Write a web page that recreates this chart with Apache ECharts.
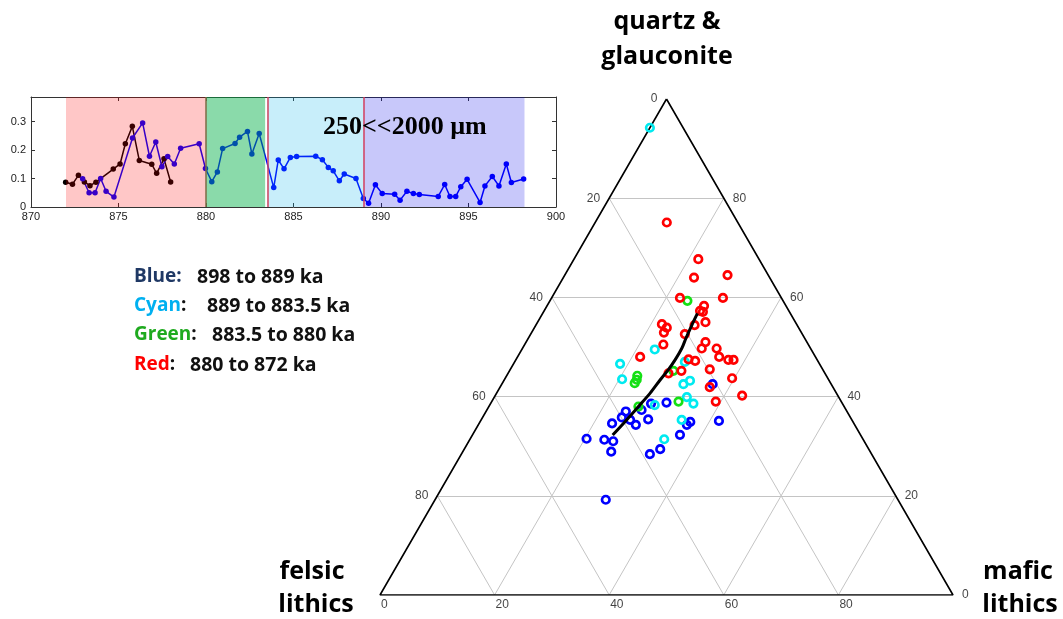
<!DOCTYPE html>
<html><head><meta charset="utf-8">
<script src="https://cdn.jsdelivr.net/npm/echarts@6/dist/echarts.min.js"></script>
<style>html,body{margin:0;padding:0;background:#fff}#c{width:1063px;height:619px}</style>
</head><body><div id="c"></div>
<script>
// ---------- inset time series (age in ka, value) ----------
const blackAge = [871.98,872.37,872.71,873.05,873.37,873.71,874.70,875.09,875.39,875.79,876.19,876.90,877.18,877.60,877.98];
const blackVal = [0.087,0.080,0.111,0.088,0.075,0.087,0.133,0.151,0.222,0.283,0.163,0.150,0.118,0.169,0.088];
const blueAge = [872.95,873.32,873.66,873.98,874.29,874.74,875.80,876.38,876.77,877.13,877.48,877.81,878.19,878.55,879.61,879.97,
  880.33,880.65,880.95,881.66,881.92,882.37,882.62,883.04,883.87,884.13,884.46,884.82,885.18,886.27,886.65,886.99,887.27,887.62,
  887.90,888.57,888.99,889.29,889.68,890.07,890.78,891.09,891.48,891.85,892.19,893.27,893.64,893.94,894.27,894.56,894.92,895.66,
  895.94,896.36,896.74,897.16,897.45,898.15];
const blueVal = [0.099,0.050,0.050,0.100,0.055,0.035,0.242,0.295,0.178,0.228,0.141,0.177,0.151,0.206,0.222,0.135,
  0.089,0.123,0.205,0.223,0.245,0.265,0.186,0.258,0.068,0.165,0.134,0.174,0.177,0.178,0.166,0.139,0.127,0.092,
  0.116,0.100,0.030,0.013,0.078,0.047,0.045,0.024,0.055,0.047,0.044,0.037,0.079,0.037,0.037,0.071,0.097,0.016,
  0.074,0.107,0.074,0.151,0.086,0.098];
const bandStart = [872, 880, 883.5, 889];
const bandEnd   = [880, 883.38, 889, 898.2];
const boundaryAges = [880, 883.5, 889];

// ---------- ternary compositions [quartz&glauconite, felsic lithics, mafic lithics] ----------
const blueQFM = [[42.5,20.7,36.8],[38.8,30.6,30.6],[38.6,33.4,28.0],[37.3,35.7,27.0],[37.0,38.6,24.4],[35.8,39.9,24.3],
  [35.3,38.7,26.0],[35.4,35.5,29.1],[34.3,38.2,27.5],[34.6,42.2,23.2],[34.9,28.4,36.7],[34.3,29.3,36.4],[35.1,23.3,41.6],
  [31.5,48.2,20.3],[31.3,45.2,23.5],[31.0,43.8,25.2],[28.9,45.2,25.9],[32.3,31.5,36.2],[29.4,36.4,34.2],[28.4,38.7,32.9],
  [19.2,51.0,29.8]];
const cyanQFM = [[94.2,5.8,0.0],[49.5,27.3,23.2],[46.6,34.8,18.6],[43.5,36.0,20.5],[42.5,25.8,31.7],[43.2,24.3,32.5],
  [47.0,23.3,29.7],[39.9,26.5,33.6],[38.6,26.0,35.4],[38.3,32.9,28.8],[35.3,29.7,35.0],[31.4,34.7,33.9]];
const greenQFM = [[59.3,16.7,24.0],[45.2,26.2,28.6],[44.2,33.0,22.8],[43.4,33.5,23.1],[42.7,34.2,23.1],[38.0,35.9,26.1],
  [39.0,28.4,32.6]];
const redQFM = [[75.1,12.4,12.5],[67.7,10.6,21.7],[64.0,13.2,22.8],[64.5,7.1,28.4],[59.9,17.7,22.4],[59.9,10.2,29.9],
  [58.3,14.3,27.4],[57.3,15.5,27.2],[57.1,15.1,27.8],[55.0,15.7,29.3],[54.4,17.9,27.7],[54.6,23.5,21.9],[53.9,23.0,23.1],
  [52.9,24.0,23.1],[52.6,20.5,26.9],[51.0,17.7,31.3],[50.5,25.3,24.2],[48.0,30.6,21.4],[49.7,19.0,31.3],[49.7,16.4,33.9],
  [48.0,16.8,35.2],[47.4,15.5,37.1],[47.4,14.6,38.0],[47.5,22.4,30.1],[47.2,21.4,31.4],[45.5,19.7,34.8],[45.2,24.8,30.0],
  [44.7,27.3,28.0],[43.7,16.7,39.6],[41.9,21.5,36.6],[39.0,21.9,39.1],[40.2,16.7,43.1]];
const trendQFM = [[32.3,43.3,24.5],[35.0,39.7,25.3],[38.0,35.9,26.1],[40.7,32.5,26.8],[43.3,29.5,27.2],[45.4,27.0,27.6],
  [47.4,24.8,27.8],[49.8,22.4,27.8],[51.8,20.7,27.5],[54.6,18.2,27.2],[56.8,16.2,27.0]];
const ternTicks = [0, 20, 40, 60, 80];

// ternary -> cartesian (x: 0..100 along base, y: quartz %)
function tern(q, f, m) { const s = q + f + m; q = 100*q/s; m = 100*m/s; return [m + q/2, q]; }

const gridSegs = [];
[20,40,60,80].forEach(t => {
  gridSegs.push({coords: [tern(t,100-t,0), tern(t,0,100-t)]});      // constant quartz
  gridSegs.push({coords: [tern(0,100-t,t), tern(100-t,0,t)]});      // constant mafic
  gridSegs.push({coords: [tern(0,t,100-t), tern(100-t,t,0)]});      // constant felsic
});
const border = [tern(100,0,0), tern(0,100,0), tern(0,0,100), tern(100,0,0)];

const bandColors = ['rgba(255,0,0,0.22)','rgba(0,175,70,0.46)','rgba(0,176,231,0.216)','rgba(0,0,231,0.216)'];
const boundaryColors = ['#7d6b45','#d2425e','#d2425e'];

const chart = echarts.init(document.getElementById('c'), null, {renderer:'canvas'});
const tickFont = {fontSize: 12, color: '#111', fontFamily: 'Liberation Sans'};
const ringStyle = c => ({type:'scatter', xAxisIndex:2, yAxisIndex:2, symbol:'circle', symbolSize:7.5,
  itemStyle:{color:'rgba(0,0,0,0)', borderColor:c, borderWidth:2.7, opacity:1}, silent:true, z:6});
const insetAxisCommon = {gridIndex:0, type:'value', splitLine:{show:false},
  axisLine:{show:true, onZero:false, lineStyle:{color:'#333', width:1}},
  axisTick:{show:true, inside:true, length:4, lineStyle:{color:'#333'}}};

chart.setOption({
  animation: false,
  backgroundColor: '#fff',
  grid: [
    {left:31, top:97, width:525, height:110, show:true, backgroundColor:'#fff', borderWidth:0},
    {left:380, top:99, width:573, height:496}
  ],
  xAxis: [
    Object.assign({}, insetAxisCommon, {min:870, max:900, interval:5, position:'bottom',
      axisLabel:{fontSize:11, color:'#222', margin:4, fontFamily:'Liberation Sans'}}),
    Object.assign({}, insetAxisCommon, {min:870, max:900, interval:5, position:'top', axisLabel:{show:false}}),
    {gridIndex:1, type:'value', min:0, max:100, show:false}
  ],
  yAxis: [
    Object.assign({}, insetAxisCommon, {min:0, max:0.386, interval:0.1, position:'left',
      axisLabel:{fontSize:11, color:'#222', margin:5, showMaxLabel:false, fontFamily:'Liberation Sans'}}),
    Object.assign({}, insetAxisCommon, {min:0, max:0.386, interval:0.1, position:'right', axisLabel:{show:false}}),
    {gridIndex:1, type:'value', min:0, max:100, show:false}
  ],
  series: [
    {type:'line', xAxisIndex:0, yAxisIndex:0, data: blackAge.map((a,i)=>[a, blackVal[i]]),
      symbol:'circle', symbolSize:5.5, itemStyle:{color:'#000'}, lineStyle:{color:'#000', width:1.5}, z:2, silent:true},
    {type:'line', xAxisIndex:0, yAxisIndex:0, data: blueAge.map((a,i)=>[a, blueVal[i]]),
      symbol:'circle', symbolSize:5.5, itemStyle:{color:'#0000ff'}, lineStyle:{color:'#0000ff', width:1.5}, z:2, silent:true},
    {type:'line', xAxisIndex:0, yAxisIndex:0, data: [], z:5, silent:true,
      markArea:{silent:true, z:10, data: bandStart.map((s,i)=>[{xAxis:s, itemStyle:{color:bandColors[i]}},{xAxis:bandEnd[i]}])},
      markLine:{silent:true, z:11, symbol:['none','none'], label:{show:false},
        data: boundaryAges.map((a,i)=>({xAxis:a, lineStyle:{color:boundaryColors[i], width:1.5, type:'solid'}}))}},
    // ternary grid and frame
    {type:'lines', coordinateSystem:'cartesian2d', xAxisIndex:2, yAxisIndex:2, data: gridSegs, silent:true, z:1,
      lineStyle:{color:'#c4c4c4', width:1, opacity:1}},
    {type:'line', xAxisIndex:2, yAxisIndex:2, data: border, symbol:'none', silent:true, z:3,
      lineStyle:{color:'#000', width:1.6}},
    // tick labels
    {type:'scatter', xAxisIndex:2, yAxisIndex:2, symbolSize:0, silent:true, z:4,
      data: ternTicks.map(t => tern(100-t, t, 0)),
      label:Object.assign({show:true, position:'left', distance:9, formatter:p=>String(ternTicks[p.dataIndex])}, tickFont)},
    {type:'scatter', xAxisIndex:2, yAxisIndex:2, symbolSize:0, silent:true, z:4,
      data: ternTicks.map(t => tern(t, 0, 100-t)),
      label:Object.assign({show:true, position:'right', distance:9, formatter:p=>String(ternTicks[p.dataIndex])}, tickFont)},
    {type:'scatter', xAxisIndex:2, yAxisIndex:2, symbolSize:0, silent:true, z:4,
      data: ternTicks.map(t => tern(0, 100-t, t)),
      label:Object.assign({show:true, position:[1,4], align:'left', verticalAlign:'top', formatter:p=>String(ternTicks[p.dataIndex])}, tickFont)},
    // data points
    Object.assign(ringStyle('#0000ff'), {data: blueQFM.map(d=>tern(d[0],d[1],d[2]))}),
    Object.assign(ringStyle('#00eaf0'), {data: cyanQFM.map(d=>tern(d[0],d[1],d[2]))}),
    Object.assign(ringStyle('#14e014'), {data: greenQFM.map(d=>tern(d[0],d[1],d[2]))}),
    Object.assign(ringStyle('#ff0000'), {data: redQFM.map(d=>tern(d[0],d[1],d[2]))}),
    {type:'line', xAxisIndex:2, yAxisIndex:2, data: trendQFM.map(d=>tern(d[0],d[1],d[2])), smooth:0.3,
      symbol:'none', silent:true, z:7, lineStyle:{color:'#000', width:3}}
  ],
  graphic: [
    {type:'text', x:667, y:22, z:20, style:{text:'quartz &', font:'bold 25px "Open Sans"', fill:'#000', align:'center', verticalAlign:'middle'}},
    {type:'text', x:667, y:57, z:20, style:{text:'glauconite', font:'bold 25px "Open Sans"', fill:'#000', align:'center', verticalAlign:'middle'}},
    {type:'text', x:312, y:572, z:20, style:{text:'felsic', font:'bold 25px "Open Sans"', fill:'#000', align:'center', verticalAlign:'middle'}},
    {type:'text', x:316, y:605, z:20, style:{text:'lithics', font:'bold 25px "Open Sans"', fill:'#000', align:'center', verticalAlign:'middle'}},
    {type:'text', x:1018, y:572, z:20, style:{text:'mafic', font:'bold 25px "Open Sans"', fill:'#000', align:'center', verticalAlign:'middle'}},
    {type:'text', x:1020, y:605, z:20, style:{text:'lithics', font:'bold 25px "Open Sans"', fill:'#000', align:'center', verticalAlign:'middle'}},
    {type:'text', x:323, y:127, z:20, style:{text:'250<<2000 µm', font:'bold 26px "Liberation Serif"', fill:'#000', align:'left', verticalAlign:'middle'}},
    {type:'text', x:134, y:277, z:20, style:{text:'Blue:', font:'bold 19px "Open Sans"', fill:'#1f3864', align:'left', verticalAlign:'middle'}},
    {type:'text', x:197, y:277, z:20, style:{text:'898 to 889 ka', font:'bold 19.5px "Open Sans"', fill:'#111', align:'left', verticalAlign:'middle'}},
    {type:'text', x:134, y:306, z:20, style:{text:'{c|Cyan}:', font:'bold 19px "Open Sans"', fill:'#111', align:'left', verticalAlign:'middle',
      rich:{c:{fill:'#00b0f0', font:'bold 19px "Open Sans"'}}}},
    {type:'text', x:207, y:306, z:20, style:{text:'889 to 883.5 ka', font:'bold 19.5px "Open Sans"', fill:'#111', align:'left', verticalAlign:'middle'}},
    {type:'text', x:134, y:335, z:20, style:{text:'{c|Green}:', font:'bold 19px "Open Sans"', fill:'#111', align:'left', verticalAlign:'middle',
      rich:{c:{fill:'#1faa1f', font:'bold 19px "Open Sans"'}}}},
    {type:'text', x:212, y:335, z:20, style:{text:'883.5 to 880 ka', font:'bold 19.5px "Open Sans"', fill:'#111', align:'left', verticalAlign:'middle'}},
    {type:'text', x:134, y:365, z:20, style:{text:'{c|Red}:', font:'bold 19px "Open Sans"', fill:'#111', align:'left', verticalAlign:'middle',
      rich:{c:{fill:'#ff0000', font:'bold 19px "Open Sans"'}}}},
    {type:'text', x:190, y:365, z:20, style:{text:'880 to 872 ka', font:'bold 19.5px "Open Sans"', fill:'#111', align:'left', verticalAlign:'middle'}}
  ]
});
</script>
</body></html>
